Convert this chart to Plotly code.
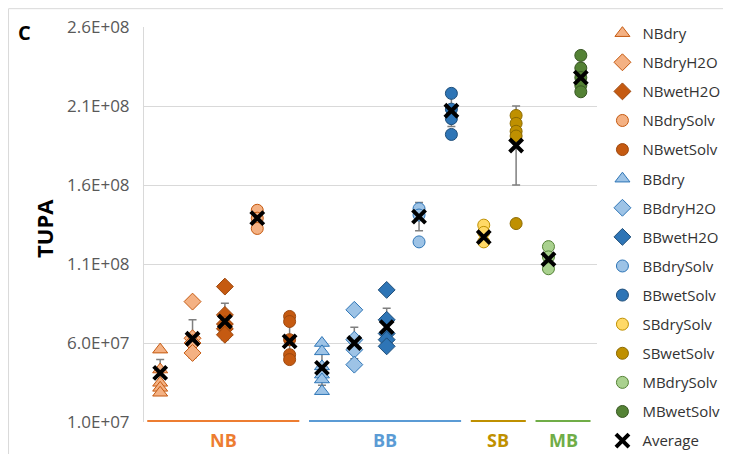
import plotly.graph_objects as go

# ---------------- data ----------------
categories = ["NBdry", "NBdryH2O", "NBwetH2O", "NBdrySolv", "NBwetSolv",
              "BBdry", "BBdryH2O", "BBwetH2O", "BBdrySolv", "BBwetSolv",
              "SBdrySolv", "SBwetSolv", "MBdrySolv", "MBwetSolv"]

NBdry = [5.58e7, 4.32e7, 3.48e7, 3.16e7, 2.85e7]
NBdryH2O = [8.62e7, 6.3e7, 6.0e7, 5.37e7]
NBwetH2O = [9.57e7, 7.78e7, 7.2e7, 6.9e7, 6.52e7]
NBdrySolv = [1.44e8, 1.39e8, 1.325e8]
NBwetSolv = [7.68e7, 7.36e7, 6.21e7, 5.26e7, 4.95e7]
BBdry = [6.0e7, 5.47e7, 4.52e7, 4.0e7, 3.69e7, 2.95e7]
BBdryH2O = [8.1e7, 6.21e7, 5.58e7, 4.63e7]
BBwetH2O = [9.36e7, 7.47e7, 6.6e7, 6.21e7, 5.79e7]
BBdrySolv = [1.45e8, 1.41e8, 1.24e8]
BBwetSolv = [2.18e8, 2.08e8, 2.02e8, 1.92e8]
SBdrySolv = [1.346e8, 1.30e8, 1.24e8]
SBwetSolv = [2.04e8, 1.99e8, 1.94e8, 1.91e8, 1.356e8]
MBdrySolv = [1.21e8, 1.145e8, 1.07e8]
MBwetSolv = [2.42e8, 2.34e8, 2.28e8, 2.23e8, 2.19e8]

average = [4.11e7, 6.27e7, 7.36e7, 1.39e8, 6.1e7,
           4.42e7, 6.0e7, 7.0e7, 1.40e8, 2.07e8,
           1.27e8, 1.85e8, 1.13e8, 2.28e8]
average_err = [0.85e7, 1.2e7, 1.16e7, 0.5e7, 1.2e7,
               1.1e7, 1.0e7, 1.2e7, 0.9e7, 1.0e7,
               0.5e7, 2.5e7, 0.6e7, 0.9e7]

groups = ["NB", "BB", "SB", "MB"]
y_tick_vals = [1.0e7, 6.0e7, 1.1e8, 1.6e8, 2.1e8, 2.6e8]
y_tick_text = ["1.0E+07", "6.0E+07", "1.1E+08", "1.6E+08", "2.1E+08", "2.6E+08"]

series = [NBdry, NBdryH2O, NBwetH2O, NBdrySolv, NBwetSolv,
          BBdry, BBdryH2O, BBwetH2O, BBdrySolv, BBwetSolv,
          SBdrySolv, SBwetSolv, MBdrySolv, MBwetSolv]

# ---------------- styles ----------------
FONT = "Open Sans"
styles = {
    "NBdry": ("triangle-up", "#F4B183", "#C55A11", 13),
    "NBdryH2O": ("diamond", "#F4B183", "#C55A11", 13),
    "NBwetH2O": ("diamond", "#C55A11", "#9E480E", 13),
    "NBdrySolv": ("circle", "#F4B183", "#C55A11", 12),
    "NBwetSolv": ("circle", "#C55A11", "#9E480E", 12),
    "BBdry": ("triangle-up", "#9DC3E6", "#2E75B6", 13),
    "BBdryH2O": ("diamond", "#9DC3E6", "#2E75B6", 13),
    "BBwetH2O": ("diamond", "#2E75B6", "#1F4E79", 13),
    "BBdrySolv": ("circle", "#9DC3E6", "#2E75B6", 12),
    "BBwetSolv": ("circle", "#2E75B6", "#1F4E79", 12),
    "SBdrySolv": ("circle", "#FFD966", "#BF9000", 12),
    "SBwetSolv": ("circle", "#BF9000", "#8C6A00", 12),
    "MBdrySolv": ("circle", "#A9D18E", "#548235", 12),
    "MBwetSolv": ("circle", "#548235", "#385723", 12),
}
group_colors = {"NB": "#ED7D31", "BB": "#5B9BD5", "SB": "#BF9000", "MB": "#70AD47"}

fig = go.Figure()

# error bars first so markers cover their hidden parts
fig.add_trace(go.Scatter(
    x=categories, y=average, mode="markers",
    marker=dict(size=1, color="rgba(0,0,0,0)"),
    error_y=dict(type="data", array=average_err, visible=True,
                 color="#7F7F7F", thickness=1.5, width=4),
    showlegend=False, hoverinfo="skip"))

for name, vals in zip(categories, series):
    sym, fill, edge, size = styles[name]
    fig.add_trace(go.Scatter(
        x=[name] * len(vals), y=vals, mode="markers", name=name,
        legendgroup=name,
        marker=dict(symbol=sym, size=size, color=fill,
                    line=dict(color=edge, width=1))))

fig.add_trace(go.Scatter(
    x=categories, y=average, mode="markers", name="Average",
    legendgroup="Average",
    marker=dict(symbol="x-thin", size=13, color="black",
                line=dict(color="black", width=4))))

# group underline bars and labels
shapes = []
annotations = []
for g in groups:
    idx = [i for i, c in enumerate(categories) if c.startswith(g)]
    x0, x1 = min(idx) - 0.4, max(idx) + 0.3
    shapes.append(dict(type="line", xref="x", yref="y", x0=x0, x1=x1,
                       y0=y_tick_vals[0], y1=y_tick_vals[0],
                       line=dict(color=group_colors[g], width=4), layer="above"))
    annotations.append(dict(x=(x0 + x1) / 2, y=y_tick_vals[0], xref="x", yref="y",
                            yshift=-18, text=f"<b>{g}</b>", showarrow=False,
                            xanchor="center", yanchor="middle",
                            font=dict(family=FONT, size=18, color=group_colors[g])))

# outer light frame (top & left)
shapes.append(dict(type="rect", xref="paper", yref="paper",
                   x0=-0.2990, x1=1.4, y0=-0.2, y1=1.0464,
                   line=dict(color="#D9D9D9", width=1), layer="below"))

annotations.append(dict(x=-0.263, y=0.987, xref="paper", yref="paper",
                        text="<b>C</b>", showarrow=False,
                        xanchor="center", yanchor="middle",
                        font=dict(family=FONT, size=20, color="black")))
annotations.append(dict(x=-0.221, y=0.491, xref="paper", yref="paper",
                        text="<b>TUPA</b>", showarrow=False, textangle=-90,
                        xanchor="center", yanchor="middle",
                        font=dict(family=FONT, size=22, color="black")))

fig.update_layout(
    width=723, height=446,
    margin=dict(l=136, r=134, t=18.8, b=31.6, autoexpand=False),
    paper_bgcolor="white", plot_bgcolor="white",
    font=dict(family=FONT, size=15, color="#404040"),
    shapes=shapes, annotations=annotations,
    legend=dict(x=1.012, xanchor="left", y=1.0255, yanchor="top",
                font=dict(family=FONT, size=15, color="#333333"),
                tracegroupgap=6.6, bgcolor="rgba(0,0,0,0)",
                itemsizing="trace", maxheight=470),
    xaxis=dict(type="category", categoryorder="array", categoryarray=categories,
               range=[-0.5, 13.5], showticklabels=False, showgrid=False,
               zeroline=False, showline=False, ticks=""),
    yaxis=dict(range=[y_tick_vals[0], y_tick_vals[-1]], tickvals=y_tick_vals,
               ticktext=y_tick_text, showgrid=True, gridcolor="#D9D9D9",
               gridwidth=1, zeroline=False, showline=True, linecolor="#D9D9D9",
               ticks="", ticklabelstandoff=10,
               tickfont=dict(family=FONT, size=17, color="#595959")),
)

fig.write_html("out.html")
